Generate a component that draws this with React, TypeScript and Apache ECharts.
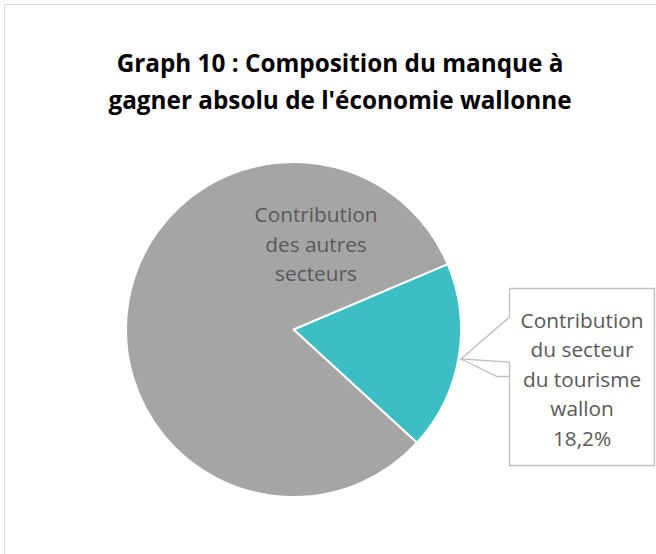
import React, { useEffect, useRef } from "react";
import * as echarts from "echarts";

const titleLines = ["Graph 10 : Composition du manque à", "gagner absolu de l'économie wallonne"];
const categories = ["Contribution\ndu secteur\ndu tourisme\nwallon", "Contribution\ndes autres\nsecteurs"];
const values = [18.2, 81.8];
const colors = ["#3BBFC4", "#A5A5A5"];

const FONT = "'Open Sans', 'Noto Sans', sans-serif";

export default function App() {
  const ref = useRef<HTMLDivElement>(null);
  useEffect(() => {
    if (!ref.current) return;
    const chart = echarts.init(ref.current, null, { renderer: "svg" });
    const cx = 293.5;
    const cy = 329.5;
    const r = 167.5;
    chart.setOption({
      animation: false,
      backgroundColor: "#fff",
      graphic: [
        {
          type: "rect",
          shape: { x: 4.5, y: 4.5, width: 700, height: 600 },
          style: { fill: "none", stroke: "#D9D9D9", lineWidth: 1 },
          z: 0,
        },
        {
          type: "text",
          x: 340,
          y: 81,
          style: {
            text: titleLines.join("\n"),
            align: "center",
            verticalAlign: "middle",
            fontFamily: FONT,
            fontWeight: "bold",
            fontSize: 24.3,
            lineHeight: 37,
            fill: "#000",
          },
        },
        {
          type: "polygon",
          shape: {
            points: [
              [509.5, 288.5],
              [654.5, 288.5],
              [654.5, 465.5],
              [509.5, 465.5],
              [509.5, 362],
              [461, 359],
              [509.5, 317],
            ],
          },
          style: { fill: "#fff", stroke: "#BFBFBF", lineWidth: 1.3 },
          z: 1,
        },
        {
          type: "polyline",
          shape: { points: [[461, 359], [497, 376.5], [509.5, 376.5]] },
          style: { fill: "none", stroke: "#BFBFBF", lineWidth: 1.3 },
          z: 1,
        },
      ],
      series: [
        {
          type: "pie",
          center: [cx, cy],
          radius: [0, r],
          startAngle: 23,
          clockwise: true,
          z: 3,
          itemStyle: { borderColor: "#fff", borderWidth: 2 },
          emphasis: { disabled: true },
          labelLine: { show: false },
          label: {
            show: true,
            position: "inside",
            color: "#595959",
            fontFamily: FONT,
            fontSize: 20.8,
            lineHeight: 29.5,
            align: "center",
          },
          labelLayout: (p: any) =>
            p.dataIndex === 0
              ? { x: 582, y: 378.5, align: "center", verticalAlign: "middle" }
              : { x: 316, y: 243.5, align: "center", verticalAlign: "middle" },
          data: categories.map((name, i) => ({
            name,
            value: values[i],
            itemStyle: { color: colors[i] },
            label: {
              formatter:
                i === 0
                  ? (q: any) => `${q.name}\n${String(q.value).replace(".", ",")}%`
                  : "{b}",
            },
          })),
        },
      ],
    });
    return () => chart.dispose();
  }, []);
  return (
    <div
      ref={ref}
      style={{ position: "fixed", left: 0, top: 0, width: 656, height: 554 }}
    />
  );
}
